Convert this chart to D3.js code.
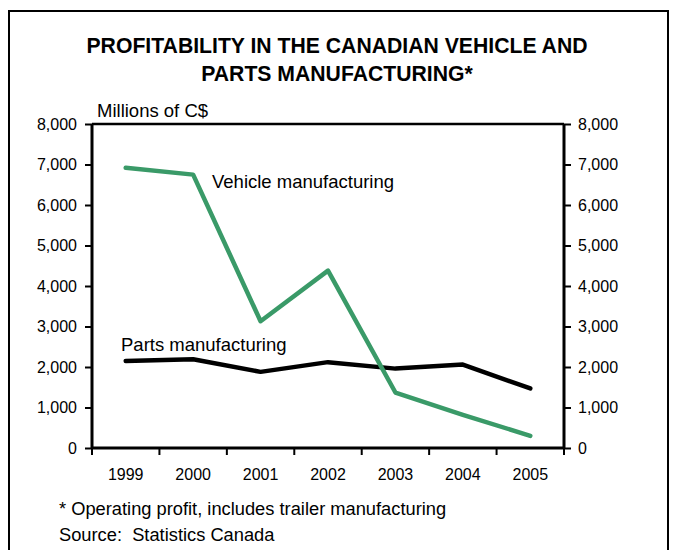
<!DOCTYPE html>
<html>
<head>
<meta charset="utf-8">
<script src="https://cdn.jsdelivr.net/npm/d3@7"></script>
<style>
  html, body { margin: 0; padding: 0; background: #fff; }
  svg { display: block; font-family: "Liberation Sans", Arial, sans-serif; }
</style>
</head>
<body>
<svg id="chart" width="675" height="550"></svg>
<script>
// Operating profit, millions of C$
const years = ["1999", "2000", "2001", "2002", "2003", "2004", "2005"];
const vehicleProfit = [6920, 6750, 3130, 4380, 1370, 820, 300];
const partsProfit = [2150, 2190, 1880, 2120, 1960, 2060, 1470];
const yTicks = [0, 1000, 2000, 3000, 4000, 5000, 6000, 7000, 8000];

const svg = d3.select("#chart");
const plot = { left: 92, right: 564, top: 124, bottom: 448 };

// outer frame
svg.append("rect")
  .attr("x", 9).attr("y", 11)
  .attr("width", 659).attr("height", 560)
  .attr("fill", "none").attr("stroke", "#000").attr("stroke-width", 2);

// title
const title = svg.append("text")
  .attr("text-anchor", "middle")
  .attr("font-weight", "bold")
  .attr("font-size", 21.2)
  .attr("fill", "#000");
title.append("tspan").attr("x", 337).attr("y", 53).text("PROFITABILITY IN THE CANADIAN VEHICLE AND");
title.append("tspan").attr("x", 337).attr("y", 81).text("PARTS MANUFACTURING*");

const x = d3.scaleBand().domain(years).range([plot.left, plot.right]).padding(0);
const y = d3.scaleLinear().domain([0, 8000]).range([plot.bottom, plot.top]);
const fmt = d3.format(",");

// top border of the plot
svg.append("line")
  .attr("x1", plot.left).attr("x2", plot.right)
  .attr("y1", plot.top).attr("y2", plot.top)
  .attr("stroke", "#000").attr("stroke-width", 2.5);

// left and right value axes
const yLeft = svg.append("g")
  .attr("transform", `translate(${plot.left},0)`)
  .call(d3.axisLeft(y).tickValues(yTicks).tickFormat(fmt).tickSize(7).tickPadding(8));
const yRight = svg.append("g")
  .attr("transform", `translate(${plot.right},0)`)
  .call(d3.axisRight(y).tickValues(yTicks).tickFormat(fmt).tickSize(7).tickPadding(7));

// bottom axis: ticks at category boundaries, labels centred in each band
const xAxis = svg.append("g").attr("transform", `translate(0,${plot.bottom})`);
xAxis.append("line")
  .attr("x1", plot.left).attr("x2", plot.right)
  .attr("stroke", "#000").attr("stroke-width", 3);
const bounds = years.map(d => x(d)).concat([plot.right]);
xAxis.selectAll("line.tick").data(bounds).join("line")
  .attr("class", "tick")
  .attr("x1", d => d).attr("x2", d => d)
  .attr("y1", 0).attr("y2", 7)
  .attr("stroke", "#000").attr("stroke-width", 2);
xAxis.selectAll("text").data(years).join("text")
  .attr("x", d => x(d) + x.bandwidth() / 2)
  .attr("y", 32)
  .attr("text-anchor", "middle")
  .attr("font-size", 16)
  .attr("fill", "#000")
  .text(d => d);

[yLeft, yRight].forEach(g => {
  g.select(".domain")
    .attr("d", `M0,${plot.bottom}V${plot.top}`)
    .attr("stroke", "#000").attr("stroke-width", 3);
  g.selectAll(".tick line").attr("stroke", "#000").attr("stroke-width", 2);
  g.selectAll(".tick text")
    .attr("font-size", 16)
    .attr("fill", "#000")
    .attr("font-family", "Liberation Sans, Arial, sans-serif");
});

// axis unit label
svg.append("text")
  .attr("x", 97).attr("y", 117)
  .attr("font-size", 18.5)
  .attr("fill", "#000")
  .text("Millions of C$");

// series lines
const line = d3.line()
  .x((d, i) => x(years[i]) + x.bandwidth() / 2)
  .y(d => y(d));

svg.append("path")
  .datum(partsProfit)
  .attr("d", line)
  .attr("fill", "none")
  .attr("stroke", "#000")
  .attr("stroke-width", 4.5)
  .attr("stroke-linecap", "round")
  .attr("stroke-linejoin", "round");

svg.append("path")
  .datum(vehicleProfit)
  .attr("d", line)
  .attr("fill", "none")
  .attr("stroke", "#3a9a68")
  .attr("stroke-width", 4.5)
  .attr("stroke-linecap", "round")
  .attr("stroke-linejoin", "round");

// series labels
svg.append("text")
  .attr("x", 212).attr("y", 188)
  .attr("font-size", 18.5)
  .attr("fill", "#000")
  .text("Vehicle manufacturing");
svg.append("text")
  .attr("x", 121).attr("y", 351)
  .attr("font-size", 18.5)
  .attr("fill", "#000")
  .text("Parts manufacturing");

// notes
svg.append("text")
  .attr("x", 59).attr("y", 515)
  .attr("font-size", 18.3)
  .attr("fill", "#000")
  .text("* Operating profit, includes trailer manufacturing");
svg.append("text")
  .attr("x", 59).attr("y", 541)
  .attr("font-size", 18.3)
  .attr("fill", "#000")
  .attr("xml:space", "preserve")
  .text("Source:  Statistics Canada");
</script>
</body>
</html>
